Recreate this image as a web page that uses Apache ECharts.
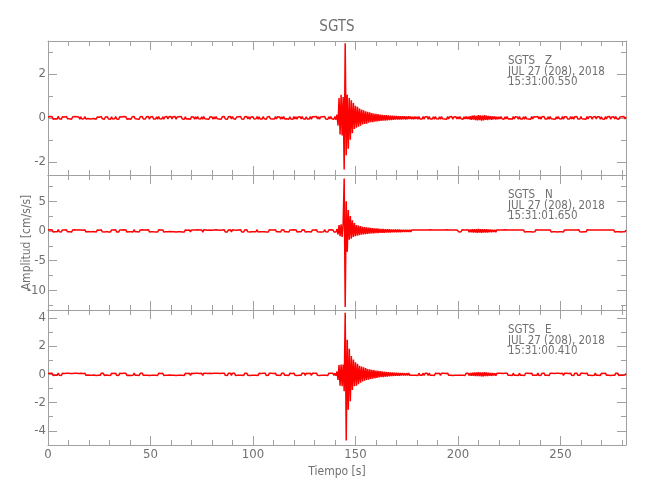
<!DOCTYPE html>
<html><head><meta charset="utf-8">
<script src="https://cdn.jsdelivr.net/npm/echarts@6/dist/echarts.min.js"></script>
<style>html,body{margin:0;padding:0;background:#fff}#chart{width:650px;height:500px}</style>
</head><body><div id="chart"></div>
<script>
const stationName = 'SGTS';
const components = ['Z', 'N', 'E'];
const dateLabel = 'JUL 27 (208), 2018';
const startTimes = ['15:31:00.550', '15:31:01.650', '15:31:00.410'];
const xAxisName = 'Tiempo [s]';
const yAxisName = 'Amplitud [cm/s/s]';
const timeRange = [0, 282];
const xTickStep = 50;
const yRanges = [[-2.6, 3.5], [-13.3, 9.4], [-5.0, 4.55]];
const yTickSteps = [2, 5, 2];
const sampleStart = 0, sampleStep = 0.5;

const traceZ = [
.04,-.05,.06,-.03,.05,-.06,.03,-.04,.05,-.05,.07,-.04,.03,-.06,.05,-.03,.04,-.05,.06,-.04,
.05,-.04,.03,-.06,.04,-.05,.06,-.03,.05,-.04,.04,-.06,.05,-.05,.03,-.04,.06,-.05,.04,-.03,
.06,-.05,.04,-.04,.05,-.03,.05,-.06,.04,-.05,.03,-.05,.06,-.04,.05,-.06,.04,-.03,.05,-.05,
.03,-.06,.05,-.05,.04,-.04,.06,-.05,.03,-.06,.05,-.04,.04,-.05,.06,-.03,.05,-.06,.03,-.04,
.05,-.06,.04,-.05,.07,-.04,.05,-.05,.04,-.06,.05,-.03,.06,-.05,.04,-.05,.05,-.04,.06,-.06,
.04,-.04,.06,-.05,.03,-.05,.05,-.06,.06,-.04,.04,-.05,.05,-.06,.04,-.04,.06,-.05,.05,-.03,
.06,-.05,.05,-.04,.06,-.06,.04,-.05,.05,-.04,.06,-.05,.04,-.06,.05,-.05,.03,-.04,.05,-.06,
.05,-.03,.04,-.06,.05,-.05,.06,-.04,.04,-.05,.05,-.06,.06,-.04,.05,-.05,.04,-.06,.05,-.04,
.04,-.06,.05,-.05,.06,-.04,.05,-.05,.03,-.06,.05,-.04,.06,-.05,.04,-.06,.05,-.04,.06,-.05,
.06,-.04,.05,-.06,.04,-.05,.05,-.04,.06,-.05,.04,-.06,.05,-.04,.06,-.05,.05,-.06,.04,-.05,
.05,-.05,.04,-.04,.06,-.06,.05,-.05,.04,-.05,.06,-.04,.05,-.06,.04,-.05,.06,-.04,.05,-.05,
.04,-.05,.06,-.05,.05,-.04,.04,-.06,.05,-.05,.06,-.05,.04,-.04,.05,-.06,.05,-.05,.04,-.06,
.06,-.05,.05,-.06,.04,-.04,.05,-.05,.06,-.04,.05,-.06,.05,-.05,.04,-.05,.06,-.06,.05,-.04,
.05,-.04,.06,-.05,.05,-.06,.04,-.05,.05,-.04,.06,-.05,.04,-.06,.05,-.05,.06,-.04,.05,-.06,
.06,-.08,.15,-.35,.9,-.75,1.05,-.8,.95,-2.35,3.4,-1.7,1.05,-1.4,.9,-1.0,.8,-.7,.68,-.5,
.55,-.45,.5,-.4,.42,-.36,.38,-.3,.35,-.28,.3,-.26,.28,-.22,.25,-.2,.22,-.2,.2,-.17,
.18,-.16,.17,-.15,.15,-.14,.14,-.12,.13,-.12,.12,-.11,.11,-.1,.1,-.1,.1,-.09,.09,-.08,
.09,-.08,.08,-.07,.08,-.07,.07,-.06,.07,-.07,.06,-.06,.07,-.05,.06,-.06,.05,-.06,.06,-.05,
.05,-.06,.06,-.05,.04,-.05,.06,-.06,.05,-.04,.05,-.06,.06,-.05,.04,-.05,.05,-.06,.06,-.04,
.04,-.05,.05,-.06,.06,-.04,.05,-.05,.04,-.06,.06,-.05,.05,-.04,.06,-.06,.04,-.05,.05,-.05,
.05,-.05,.06,-.04,.05,-.06,.05,-.05,.06,-.05,.05,-.06,.08,-.09,.1,-.08,.11,-.1,.09,-.11,
.12,-.1,.11,-.12,.1,-.11,.12,-.09,.1,-.1,.09,-.08,.08,-.09,.07,-.06,.06,-.07,.05,-.06,
.05,-.05,.06,-.04,.04,-.06,.05,-.05,.06,-.05,.04,-.04,.05,-.06,.06,-.05,.05,-.04,.04,-.06,
.06,-.05,.04,-.05,.05,-.06,.06,-.04,.05,-.05,.04,-.06,.06,-.05,.05,-.04,.04,-.05,.06,-.05,
.05,-.06,.05,-.04,.06,-.05,.04,-.05,.05,-.06,.06,-.04,.05,-.05,.04,-.06,.05,-.05,.06,-.04,
.04,-.05,.06,-.06,.05,-.04,.05,-.05,.04,-.05,.06,-.05,.05,-.06,.05,-.04,.06,-.05,.04,-.05,
.06,-.04,.05,-.05,.04,-.06,.06,-.05,.05,-.04,.05,-.06,.04,-.05,.06,-.05,.05,-.04,.05,-.06,
.05,-.05,.04,-.06,.06,-.05,.05,-.04,.06,-.06,.04,-.05,.05,-.05,.06,-.04,.05,-.06,.04,-.05,
.05,-.04,.06,-.05,.04
];

const traceN = [
.14,-.17,.2,-.12,.16,-.19,.13,-.15,.18,-.16,.21,-.14,.12,-.18,.17,-.13,.15,-.17,.19,-.15,
.17,-.14,.12,-.2,.15,-.17,.19,-.12,.16,-.15,.14,-.19,.17,-.16,.12,-.14,.2,-.17,.15,-.12,
.19,-.16,.15,-.14,.17,-.12,.16,-.2,.14,-.17,.12,-.16,.2,-.15,.17,-.19,.14,-.12,.16,-.17,
.12,-.19,.17,-.16,.15,-.14,.2,-.17,.12,-.2,.16,-.15,.14,-.17,.19,-.12,.17,-.2,.13,-.15,
.16,-.15,.13,-.18,.2,-.14,.15,-.16,.13,-.19,.17,-.12,.18,-.15,.14,-.17,.16,-.13,.19,-.18,
.13,-.14,.18,-.16,.12,-.17,.16,-.19,.18,-.13,.15,-.16,.17,-.2,.13,-.15,.18,-.16,.15,-.12,
.18,-.16,.15,-.13,.19,-.18,.14,-.15,.16,-.13,.2,-.17,.13,-.19,.16,-.15,.12,-.14,.17,-.19,
.15,-.12,.14,-.19,.16,-.16,.18,-.13,.14,-.17,.15,-.2,.19,-.14,.16,-.16,.13,-.18,.15,-.14,
.13,-.18,.16,-.15,.19,-.13,.17,-.16,.12,-.19,.15,-.14,.18,-.17,.14,-.19,.16,-.13,.2,-.16,
.19,-.14,.15,-.18,.13,-.16,.16,-.14,.18,-.17,.14,-.19,.16,-.13,.19,-.16,.15,-.18,.13,-.15,
.16,-.16,.13,-.14,.2,-.18,.15,-.16,.14,-.15,.18,-.13,.16,-.19,.13,-.17,.19,-.14,.16,-.16,
.14,-.16,.19,-.15,.16,-.13,.14,-.18,.16,-.16,.19,-.15,.13,-.14,.17,-.19,.15,-.16,.14,-.18,
.18,-.15,.16,-.19,.13,-.14,.17,-.16,.19,-.13,.16,-.18,.15,-.16,.14,-.15,.18,-.19,.16,-.14,
.15,-.14,.18,-.16,.16,-.19,.13,-.17,.16,-.14,.2,-.16,.14,-.18,.17,-.15,.19,-.14,.16,-.18,
.15,-.2,.3,-.6,1.0,-.9,1.1,-1.0,1.2,8.8,-12.8,5.0,-3.5,3.5,-1.5,2.5,-1.3,1.8,-1.0,1.3,
-.9,1.0,-.8,.9,-.7,.8,-.65,.7,-.6,.65,-.55,.6,-.5,.55,-.45,.5,-.42,.45,-.4,.42,
-.38,.4,-.35,.37,-.33,.35,-.3,.32,-.3,.3,-.28,.28,-.26,.27,-.25,.25,-.24,.24,-.22,.23,
-.22,.22,-.2,.21,-.2,.2,-.19,.2,-.18,.19,-.18,.18,-.17,.18,-.17,.17,-.16,.17,-.16,.16,
-.15,.17,-.16,.14,-.18,.16,-.15,.17,-.14,.16,-.17,.15,-.16,.18,-.14,.15,-.17,.16,-.15,.14,
-.16,.15,-.18,.17,-.14,.16,-.16,.14,-.17,.18,-.15,.16,-.14,.15,-.18,.16,-.15,.17,-.16,.15,
.15,-.17,.14,-.16,.18,-.15,.16,-.17,.15,-.18,.2,-.22,.25,-.24,.28,-.26,.3,-.27,.29,-.3,
.31,-.28,.3,-.3,.28,-.29,.3,-.26,.27,-.26,.25,-.23,.22,-.24,.2,-.19,.18,-.2,.17,-.16,
.16,-.15,.14,-.17,.15,-.16,.18,-.14,.16,-.15,.17,-.16,.14,-.18,.15,-.16,.17,-.14,.16,-.17,
.15,-.16,.17,-.14,.16,-.18,.14,-.15,.18,-.16,.15,-.14,.16,-.17,.14,-.16,.18,-.15,.15,-.16,
.17,-.14,.16,-.16,.14,-.17,.15,-.16,.17,-.14,.16,-.18,.15,-.15,.17,-.16,.14,-.17,.16,-.15,
.14,-.16,.15,-.17,.17,-.15,.16,-.14,.15,-.18,.14,-.16,.17,-.15,.16,-.14,.15,-.17,.18,-.16,
.16,-.17,.14,-.15,.16,-.16,.18,-.15,.14,-.16,.17,-.14,.15,-.17,.16,-.15,.14,-.16,.17,-.15,
.15,-.15,.17,-.16,.14,-.17,.16,-.14,.17,-.16,.15,-.15,.16,-.18,.14,-.16,.17,-.15,.15,-.17,
.15,-.16,.17,-.14,.15
];

const traceE = [
.06,-.07,.08,-.05,.07,-.08,.05,-.06,.07,-.07,.09,-.06,.05,-.08,.07,-.05,.06,-.07,.08,-.06,
.07,-.06,.05,-.08,.06,-.07,.08,-.05,.07,-.06,.06,-.08,.07,-.07,.05,-.06,.08,-.07,.06,-.05,
.08,-.07,.06,-.06,.07,-.05,.07,-.08,.06,-.07,.05,-.07,.08,-.06,.07,-.08,.06,-.05,.07,-.07,
.05,-.08,.07,-.07,.06,-.06,.08,-.07,.05,-.08,.07,-.06,.06,-.07,.08,-.05,.07,-.08,.05,-.06,
.07,-.08,.06,-.07,.09,-.06,.07,-.07,.06,-.08,.07,-.05,.08,-.07,.06,-.07,.07,-.06,.08,-.08,
.06,-.06,.08,-.07,.05,-.07,.07,-.08,.08,-.06,.06,-.07,.07,-.08,.06,-.06,.08,-.07,.07,-.05,
.08,-.07,.07,-.06,.08,-.08,.06,-.07,.07,-.06,.08,-.07,.06,-.08,.07,-.07,.05,-.06,.07,-.08,
.07,-.05,.06,-.08,.07,-.07,.08,-.06,.06,-.07,.07,-.08,.08,-.06,.07,-.07,.06,-.08,.07,-.06,
.06,-.08,.07,-.07,.08,-.06,.07,-.07,.05,-.08,.07,-.06,.08,-.07,.06,-.08,.07,-.06,.08,-.07,
.08,-.06,.07,-.08,.06,-.07,.07,-.06,.08,-.07,.06,-.08,.07,-.06,.08,-.07,.07,-.08,.06,-.07,
.07,-.07,.06,-.06,.08,-.08,.07,-.07,.06,-.07,.08,-.06,.07,-.08,.06,-.07,.08,-.06,.07,-.07,
.06,-.07,.08,-.07,.07,-.06,.06,-.08,.07,-.07,.08,-.07,.06,-.06,.07,-.08,.07,-.07,.06,-.08,
.08,-.07,.07,-.08,.06,-.06,.07,-.07,.08,-.06,.07,-.08,.07,-.07,.06,-.07,.08,-.08,.07,-.06,
.07,-.06,.08,-.07,.07,-.08,.06,-.07,.07,-.06,.08,-.07,.06,-.08,.07,-.07,.08,-.06,.07,-.08,
.07,-.1,.2,-.4,.65,-.8,.7,-.85,.69,-1.2,4.35,-4.68,2.45,-2.5,1.8,-1.9,1.3,-1.1,1.04,-.85,
.85,-.8,.75,-.7,.6,-.6,.55,-.5,.5,-.45,.45,-.4,.38,-.38,.35,-.33,.32,-.3,.3,-.28,
.26,-.25,.24,-.22,.22,-.2,.2,-.19,.18,-.17,.17,-.16,.15,-.15,.14,-.13,.13,-.12,.12,-.11,
.11,-.1,.1,-.1,.09,-.09,.09,-.08,.08,-.08,.08,-.07,.08,-.07,.07,-.07,.07,-.06,.07,-.06,
.07,-.08,.08,-.07,.06,-.07,.08,-.08,.07,-.06,.07,-.08,.08,-.07,.06,-.07,.07,-.08,.08,-.06,
.06,-.07,.07,-.08,.08,-.06,.07,-.07,.06,-.08,.08,-.07,.07,-.06,.08,-.08,.06,-.07,.07,-.07,
.06,-.07,.07,-.06,.08,-.07,.06,-.08,.07,-.07,.08,-.09,.1,-.11,.12,-.1,.13,-.12,.14,-.13,
.15,-.13,.14,-.15,.13,-.14,.15,-.12,.13,-.13,.12,-.11,.1,-.11,.09,-.08,.08,-.09,.07,-.07,
.07,-.07,.08,-.06,.06,-.08,.07,-.07,.08,-.07,.06,-.06,.07,-.08,.08,-.07,.07,-.06,.06,-.08,
.08,-.07,.06,-.07,.07,-.08,.08,-.06,.07,-.07,.06,-.08,.08,-.07,.07,-.06,.06,-.07,.08,-.07,
.07,-.08,.07,-.06,.08,-.07,.06,-.07,.07,-.08,.08,-.06,.07,-.07,.06,-.08,.07,-.07,.08,-.06,
.06,-.07,.08,-.08,.07,-.06,.07,-.07,.06,-.07,.08,-.07,.07,-.08,.07,-.06,.08,-.07,.06,-.07,
.08,-.06,.07,-.07,.06,-.08,.08,-.07,.07,-.06,.07,-.08,.06,-.07,.08,-.07,.07,-.06,.07,-.08,
.07,-.07,.06,-.08,.08,-.07,.07,-.06,.08,-.08,.06,-.07,.07,-.07,.08,-.06,.07,-.08,.06,-.07,
.06,-.07,.07,-.05,.06
];

const traces = [traceZ, traceN, traceE];
const FONT = "'DejaVu Sans Condensed','Liberation Sans Narrow','Noto Sans',sans-serif";
const TEXT = '#707070';
const LINE = '#a0a0a0';
const gridTops = [41, 175, 310];
const gridHeights = [134, 135, 135];

const grids = [], xAxes = [], yAxes = [], series = [], titles = [];
titles.push({
  text: stationName, left: 337, top: 20, textAlign: 'center', padding: 0,
  textStyle: { fontFamily: FONT, fontSize: 15, fontWeight: 'normal', color: TEXT }
});
traces.forEach((tr, i) => {
  grids.push({ left: 48, right: 24, top: gridTops[i], height: gridHeights[i], containLabel: false });
  const isLast = i === traces.length - 1;
  const xBase = {
    gridIndex: i, type: 'value', min: timeRange[0], max: timeRange[1], interval: xTickStep,
    axisLine: { show: true, onZero: false, lineStyle: { color: LINE, width: 1 } },
    axisTick: { show: true, inside: true, length: 9, lineStyle: { color: LINE } },
    minorTick: { show: true, splitNumber: 5, length: 5, lineStyle: { color: LINE } },
    splitLine: { show: false }
  };
  xAxes.push(Object.assign({}, xBase, {
    position: 'bottom',
    axisLabel: { show: isLast, showMaxLabel: false, margin: 3, fontFamily: FONT, fontSize: 13, color: TEXT },
    name: isLast ? xAxisName : '', nameLocation: 'middle', nameGap: 21, nameMoveOverlap: false,
    nameTextStyle: { fontFamily: FONT, fontSize: 12, color: TEXT }
  }));
  xAxes.push(Object.assign({}, xBase, { position: 'top', axisLabel: { show: false } }));
  const step = yTickSteps[i];
  const yBase = {
    gridIndex: i, type: 'value', min: yRanges[i][0], max: yRanges[i][1],
    minInterval: step, maxInterval: step, splitNumber: 4,
    axisLine: { show: true, onZero: false, lineStyle: { color: LINE, width: 1 } },
    axisTick: { show: true, inside: true, length: 9, lineStyle: { color: LINE } },
    minorTick: { show: true, splitNumber: 2, length: 5, lineStyle: { color: LINE } },
    splitLine: { show: false }
  };
  yAxes.push(Object.assign({}, yBase, {
    position: 'left',
    axisLabel: { show: true, showMinLabel: false, showMaxLabel: false, margin: 2, fontFamily: FONT, fontSize: 13, color: TEXT },
    name: i === 1 ? yAxisName : '', nameLocation: 'middle', nameGap: 15, nameMoveOverlap: false,
    nameTextStyle: { fontFamily: FONT, fontSize: 12, color: TEXT }
  }));
  yAxes.push(Object.assign({}, yBase, { position: 'right', axisLabel: { show: false } }));
  series.push({
    type: 'line', xAxisIndex: 2 * i, yAxisIndex: 2 * i,
    data: tr.map((v, k) => [sampleStart + k * sampleStep, v]),
    showSymbol: false, symbol: 'none', sampling: false, clip: true,
    lineStyle: { color: '#ff0000', width: 1.5, join: 'bevel', cap: 'butt' }, animation: false, silent: true
  });
  titles.push({
    text: stationName + '   ' + components[i] + '\n' + dateLabel + '\n' + startTimes[i],
    left: 508, top: gridTops[i] + 15, padding: 0,
    textStyle: { fontFamily: FONT, fontSize: 11.5, lineHeight: 10.5, fontWeight: 'normal', color: TEXT }
  });
});

const chart = echarts.init(document.getElementById('chart'), null, { renderer: 'canvas' });
chart.setOption({
  backgroundColor: '#ffffff', animation: false,
  title: titles, grid: grids, xAxis: xAxes, yAxis: yAxes, series: series
});
</script></body></html>
